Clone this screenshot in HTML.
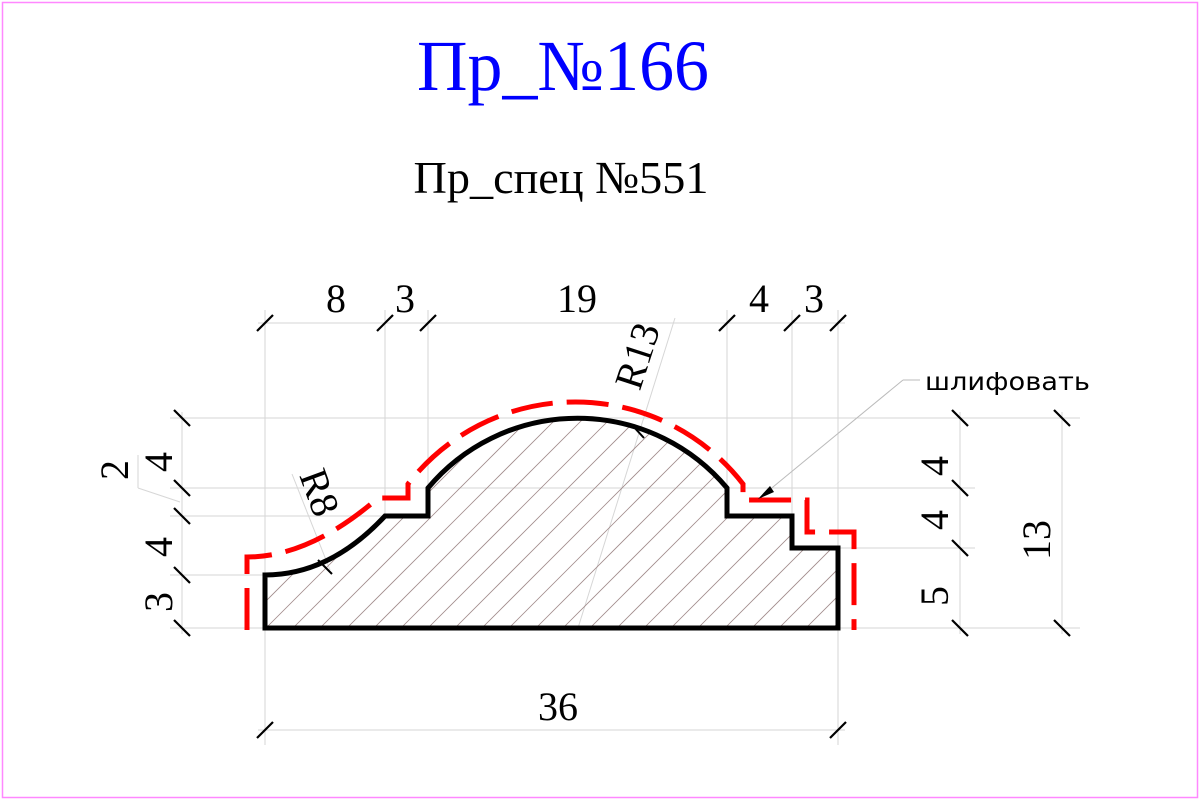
<!DOCTYPE html>
<html><head><meta charset="utf-8"><style>
html,body{margin:0;padding:0;background:#fff;}
svg{display:block;}
text{font-family:"Liberation Serif",serif;fill:#000;}
</style></head><body>
<svg width="1200" height="800" viewBox="0 0 1200 800">
<defs>
<clipPath id="prof"><path d="M265 628 L265 575 Q330 575 385 516 L428 516 L428 488 A195 195 0 0 1 727 488 L727 516 L792 516 L792 548 L838 548 L838 628 Z"/></clipPath>
</defs>
<rect x="2.5" y="2.5" width="1195" height="795" fill="none" stroke="#ff88ff" stroke-width="1.5"/>
<text x="563" y="90" font-size="72" fill="#0000ff" style="fill:#0000ff" text-anchor="middle" textLength="292" lengthAdjust="spacingAndGlyphs">Пр_№166</text>
<text x="561" y="193" font-size="46" text-anchor="middle" textLength="295" lengthAdjust="spacingAndGlyphs">Пр_спец №551</text>
<g stroke="#d6d6d6" stroke-width="1">
<line x1="265" y1="310" x2="265" y2="745"/><line x1="385" y1="310" x2="385" y2="516"/><line x1="428" y1="310" x2="428" y2="488"/>
<line x1="727" y1="310" x2="727" y2="488"/><line x1="792" y1="310" x2="792" y2="516"/><line x1="838" y1="310" x2="838" y2="745"/>
<line x1="258" y1="323" x2="845" y2="323"/><line x1="258" y1="730" x2="845" y2="730"/>
<line x1="170" y1="418" x2="1080" y2="418"/><line x1="170" y1="488" x2="975" y2="488"/><line x1="170" y1="516" x2="385" y2="516"/>
<line x1="838" y1="548" x2="975" y2="548"/><line x1="170" y1="575" x2="265" y2="575"/><line x1="170" y1="628" x2="1080" y2="628"/>
<line x1="182" y1="412" x2="182" y2="634"/><line x1="960" y1="412" x2="960" y2="634"/><line x1="1062" y1="412" x2="1062" y2="634"/>
<line x1="138" y1="488" x2="180" y2="502"/><line x1="138" y1="455" x2="138" y2="488"/>
<line x1="578" y1="628" x2="675" y2="318"/><line x1="292" y1="474" x2="330" y2="570"/>
</g>
<g clip-path="url(#prof)" stroke="#a08a8a" stroke-width="0.8">
<script>document.currentScript.remove();</script>
</g>
<g id="hatch" clip-path="url(#prof)" stroke="#a08a8a" stroke-width="0.8"></g>
<path d="M265 628 L265 575 Q330 575 385 516 L428 516 L428 488 A195 195 0 0 1 727 488 L727 516 L792 516 L792 548 L838 548 L838 628 Z" fill="none" stroke="#000" stroke-width="5"/>
<path d="M247 630 L247 557 Q310 557 378 498 L408 498 L408 484 A212 212 0 0 1 743 484 L743 500 L807 500 L807 532 L854 532 L854 630" fill="none" stroke="#ff0000" stroke-width="5" stroke-dasharray="42 14"/>
<g stroke="#000" stroke-width="2.2">
<line x1="257" y1="331" x2="273" y2="315"/><line x1="377" y1="331" x2="393" y2="315"/><line x1="420" y1="331" x2="436" y2="315"/>
<line x1="719" y1="331" x2="735" y2="315"/><line x1="784" y1="331" x2="800" y2="315"/><line x1="830" y1="331" x2="846" y2="315"/>
<line x1="257" y1="738" x2="273" y2="722"/><line x1="830" y1="738" x2="846" y2="722"/>
<line x1="174" y1="410" x2="190" y2="426"/><line x1="174" y1="480" x2="190" y2="496"/><line x1="174" y1="508" x2="190" y2="524"/>
<line x1="174" y1="567" x2="190" y2="583"/><line x1="174" y1="620" x2="190" y2="636"/>
<line x1="952" y1="410" x2="968" y2="426"/><line x1="952" y1="480" x2="968" y2="496"/><line x1="952" y1="540" x2="968" y2="556"/><line x1="952" y1="620" x2="968" y2="636"/>
<line x1="1054" y1="410" x2="1070" y2="426"/><line x1="1054" y1="620" x2="1070" y2="636"/>
</g>
<g font-size="40" text-anchor="middle">
<text x="336" y="312">8</text><text x="405" y="312">3</text><text x="577" y="312">19</text>
<text x="759" y="312">4</text><text x="814" y="312">3</text><text x="558" y="720">36</text>
<text transform="translate(128,470) rotate(-90)">2</text>
<text transform="translate(172,462) rotate(-90)">4</text>
<text transform="translate(172,547) rotate(-90)">4</text>
<text transform="translate(172,602) rotate(-90)">3</text>
<text transform="translate(948,466) rotate(-90)">4</text>
<text transform="translate(948,520) rotate(-90)">4</text>
<text transform="translate(948,596) rotate(-90)">5</text>
<text transform="translate(1050,540) rotate(-90)">13</text>
<text transform="translate(307,497) rotate(70)">R8</text>
<text transform="translate(650,360) rotate(-72)">R13</text>
</g>
<g stroke="#000" stroke-width="2">
<line x1="318" y1="560" x2="332" y2="574"/><line x1="632" y1="425" x2="644" y2="438"/>
</g>
<line x1="762" y1="496" x2="903" y2="380" stroke="#bbb" stroke-width="1"/>
<line x1="903" y1="380" x2="920" y2="380" stroke="#bbb" stroke-width="1"/>
<path d="M758 499 L770 486 L774 492 Z" fill="#000"/>
<text x="925" y="390" font-size="25" style="font-family:'DejaVu Sans','Liberation Sans',sans-serif" textLength="165" lengthAdjust="spacingAndGlyphs">шлифовать</text>
</svg>
<script>
var g=document.getElementById('hatch');


for(var x=-200;x<900;x+=27){
  var l=document.createElementNS('http://www.w3.org/2000/svg','line');
  l.setAttribute('x1',265+x);l.setAttribute('y1',640);
  l.setAttribute('x2',265+x+240);l.setAttribute('y2',400);
  
  
  g.appendChild(l);
}
</script>
</body></html>
